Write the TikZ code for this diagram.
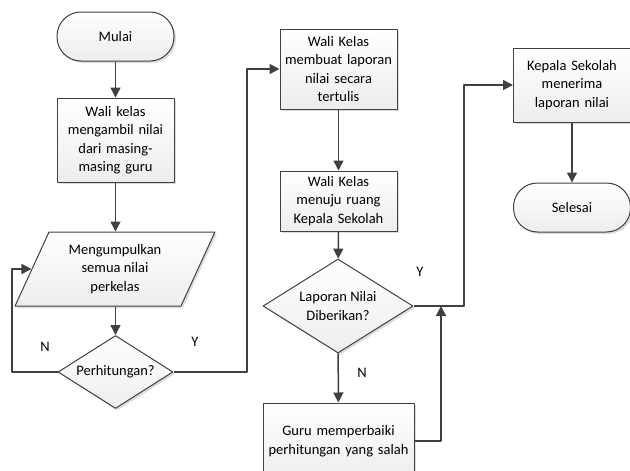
\documentclass[tikz,border=0pt]{standalone}
\usepackage{fontspec}
\setmainfont{Carlito}
\usetikzlibrary{shapes.geometric,arrows.meta,shadows}
\definecolor{lineg}{HTML}{404040}
\begin{document}
\begin{tikzpicture}[x=1pt, y=-1pt, line join=round,
	font=\fontsize{14.5}{18.5}\selectfont,
	base/.style={draw=lineg, line width=1pt, top color=white, bottom color=gray!14, align=center, inner sep=2pt,
		drop shadow={shadow xshift=2pt, shadow yshift=-2pt, fill=gray!45, opacity=0.6}},
	proc/.style={base, rectangle, minimum width=117, text width=110},
	term/.style={base, rectangle, rounded corners=24pt, minimum width=117, minimum height=49},
	decide/.style={base, diamond, aspect=1.6, inner sep=1pt},
	inout/.style={base, trapezium, trapezium left angle=65, trapezium right angle=115, trapezium stretches=true, minimum width=200, minimum height=74},
	flow/.style={draw=lineg, line width=1.5pt, -{Triangle[width=10pt,length=10pt]}},
	lbl/.style={font=\fontsize{14.5}{18.5}\selectfont}]
	\useasboundingbox (0,0) rectangle (630,471);
	% kolom kiri
	\node[term] (mulai) at (115.5,36.5) {Mulai};
	\node[proc, minimum height=84] (ambil) at (115.5,140) {Wali kelas\\mengambil nilai\\dari masing-\\masing guru};
	\node[inout] (kumpul) at (115,269) {Mengumpulkan\\semua nilai\\perkelas};
	\node[decide, minimum width=115, minimum height=73] (hitung) at (115.5,372) {Perhitungan?};
	% kolom tengah
	\node[proc, minimum height=80] (buat) at (338.5,69) {Wali Kelas\\membuat laporan\\nilai secara\\tertulis};
	\node[proc, minimum height=60] (menuju) at (338.5,201) {Wali Kelas\\menuju ruang\\Kepala Sekolah};
	\node[decide, minimum width=150, minimum height=94] (beri) at (338,306) {Laporan Nilai\\Diberikan?};
	\node[proc, minimum width=151, text width=145, minimum height=76] (perbaiki) at (338.5,441) {Guru memperbaiki\\perhitungan yang salah};
	% kolom kanan
	\node[proc, minimum height=74] (terima) at (572,85) {Kepala Sekolah\\menerima\\laporan nilai};
	\node[term] (selesai) at (572,207.5) {Selesai};
	% titik belok
	\path
	(12,372) coordinate (kiri)
	(247,372) coordinate (naik1)
	(441,306) coordinate (temu)
	(464,306) coordinate (naik2);
	% panah
	\draw[flow] (mulai) -- (ambil);
	\draw[flow] (ambil.south) -- (ambil.south |- kumpul.top side);
	\draw[flow] (hitung.north |- kumpul.bottom side) -- (hitung.north);
	\draw[flow] (hitung.west) -- (kiri) |- (kumpul.left side);
	\draw[flow] (hitung.east) -- (naik1) |- (buat.west);
	\draw[flow] (buat) -- (menuju);
	\draw[flow] (menuju) -- (beri);
	\draw[flow] (beri) -- (perbaiki);
	\draw[flow] (perbaiki.east) -| (temu);
	\draw[flow] (beri.east) -- (naik2) |- (terima.west);
	\draw[flow] (terima) -- (selesai);
	% label
	\node[lbl] (n1) at (45,347) {N};
	\node[lbl] (y1) at (195,342) {Y};
	\node[lbl] (y2) at (420,272) {Y};
	\node[lbl] (n2) at (362,373) {N};
\end{tikzpicture}
\end{document}
